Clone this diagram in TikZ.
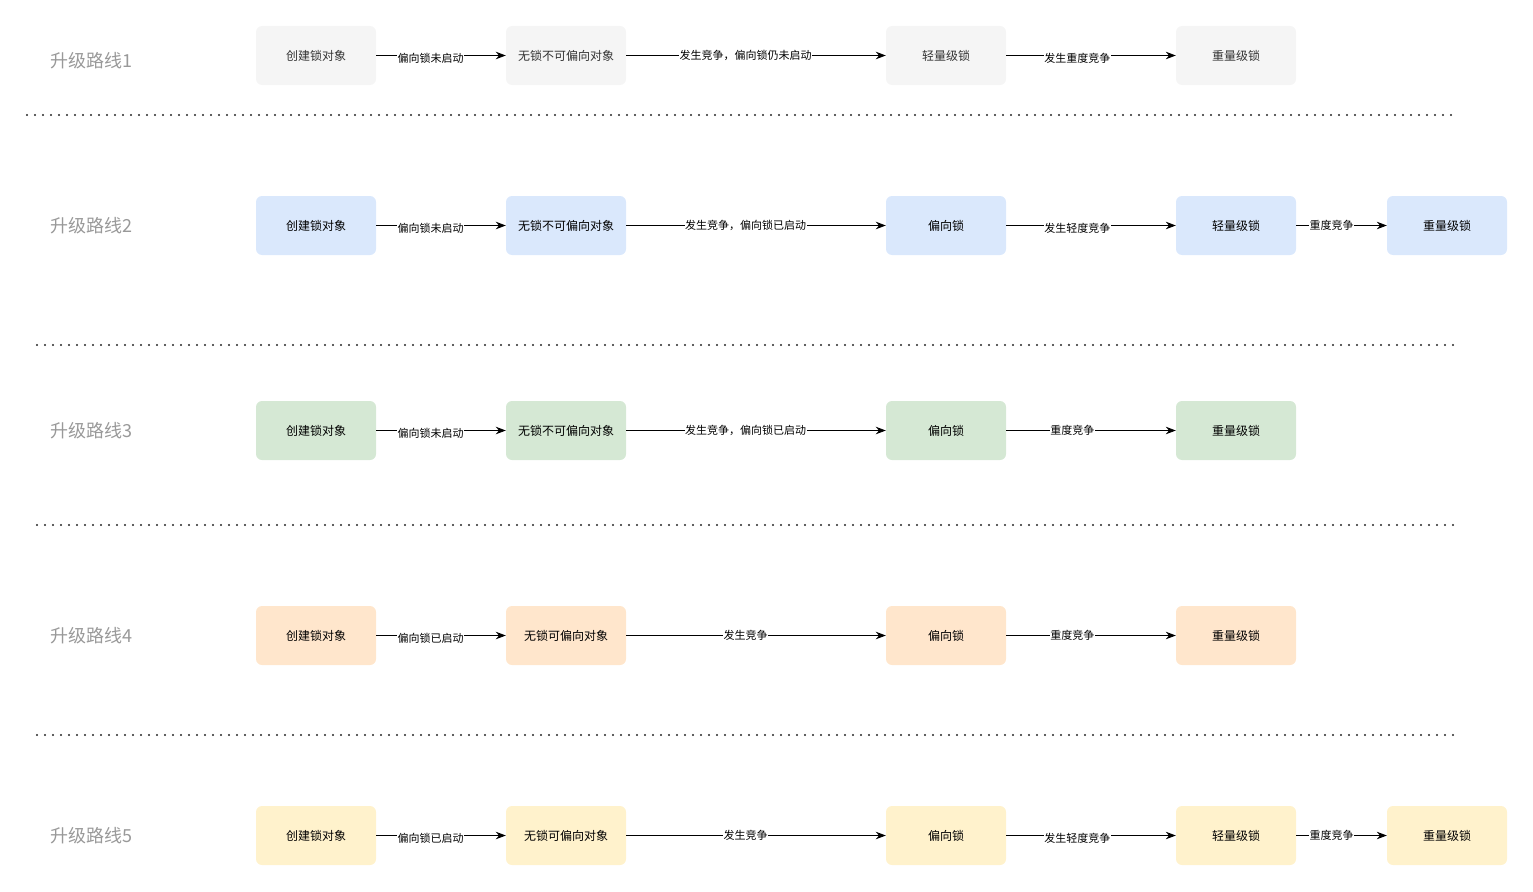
\documentclass[tikz,border=0pt]{standalone}
\usepackage{fontspec}
\setmainfont{Noto Sans CJK SC}
\usetikzlibrary{arrows.meta,positioning}
\definecolor{grayfill}{HTML}{F5F5F5}
\definecolor{bluefill}{HTML}{DAE8FC}
\definecolor{greenfill}{HTML}{D5E8D4}
\definecolor{orangefill}{HTML}{FFE6CC}
\definecolor{yellowfill}{HTML}{FFF2CC}
\definecolor{routegray}{HTML}{999999}

\begin{document}
\begin{tikzpicture}[x=1pt,y=-1pt,
    lockbox/.style={rounded corners=6pt,minimum width=120pt,minimum height=59pt,inner sep=0pt,font=\fontsize{12}{14}\selectfont},
    route/.style={text=routegray,font=\fontsize{18}{20}\selectfont},
    flow/.style={-{Stealth[length=10pt,width=7.5pt]},line width=0.9pt},
    lbl/.style={fill=white,inner sep=0.5pt,font=\fontsize{11}{12}\selectfont,pos=0.42},
    sepline/.style={line width=2.2pt,dash pattern=on 0pt off 8pt,line cap=round,black!85}]
    \useasboundingbox (0,0) rectangle (1533,891);
    % route titles
    \foreach \n/\y in {1/61,2/226,3/431,4/636,5/836}
      \node[route] (route\n) at (91,\y) {升级路线\n};
    % separators
    \draw[sepline] (27,115) -- (1455,115);
    \foreach \y in {345,525,735}
      \draw[sepline] (37,\y) -- (1455,\y);

    % route 1
    \node[lockbox,fill=grayfill,text=black!80] (r1a) at (316,55.5)  {创建锁对象};
    \node[lockbox,fill=grayfill,text=black!80] (r1b) at (566,55.5)  {无锁不可偏向对象};
    \node[lockbox,fill=grayfill,text=black!80] (r1c) at (946,55.5)  {轻量级锁};
    \node[lockbox,fill=grayfill,text=black!80] (r1d) at (1236,55.5) {重量级锁};
    \draw[flow] (r1a) -- node[lbl,yshift=-3pt]{偏向锁未启动} (r1b);
    \draw[flow] (r1b) -- node[lbl,pos=0.46]{发生竞争，偏向锁仍未启动} (r1c);
    \draw[flow] (r1c) -- node[lbl,yshift=-3pt]{发生重度竞争} (r1d);

    % route 2
    \node[lockbox,fill=bluefill] (r2a) at (316,225.5)  {创建锁对象};
    \node[lockbox,fill=bluefill] (r2b) at (566,225.5)  {无锁不可偏向对象};
    \node[lockbox,fill=bluefill] (r2c) at (946,225.5)  {偏向锁};
    \node[lockbox,fill=bluefill] (r2d) at (1236,225.5) {轻量级锁};
    \node[lockbox,fill=bluefill] (r2e) at (1447,225.5) {重量级锁};
    \draw[flow] (r2a) -- node[lbl,yshift=-3pt]{偏向锁未启动} (r2b);
    \draw[flow] (r2b) -- node[lbl,pos=0.46]{发生竞争，偏向锁已启动} (r2c);
    \draw[flow] (r2c) -- node[lbl,yshift=-3pt]{发生轻度竞争} (r2d);
    \draw[flow] (r2d) -- node[lbl,pos=0.39]{重度竞争} (r2e);

    % route 3
    \node[lockbox,fill=greenfill] (r3a) at (316,430.5)  {创建锁对象};
    \node[lockbox,fill=greenfill] (r3b) at (566,430.5)  {无锁不可偏向对象};
    \node[lockbox,fill=greenfill] (r3c) at (946,430.5)  {偏向锁};
    \node[lockbox,fill=greenfill] (r3d) at (1236,430.5) {重量级锁};
    \draw[flow] (r3a) -- node[lbl,yshift=-3pt]{偏向锁未启动} (r3b);
    \draw[flow] (r3b) -- node[lbl,pos=0.46]{发生竞争，偏向锁已启动} (r3c);
    \draw[flow] (r3c) -- node[lbl,pos=0.39]{重度竞争} (r3d);

    % route 4
    \node[lockbox,fill=orangefill] (r4a) at (316,635.5)  {创建锁对象};
    \node[lockbox,fill=orangefill] (r4b) at (566,635.5)  {无锁可偏向对象};
    \node[lockbox,fill=orangefill] (r4c) at (946,635.5)  {偏向锁};
    \node[lockbox,fill=orangefill] (r4d) at (1236,635.5) {重量级锁};
    \draw[flow] (r4a) -- node[lbl,yshift=-3pt]{偏向锁已启动} (r4b);
    \draw[flow] (r4b) -- node[lbl,pos=0.46]{发生竞争} (r4c);
    \draw[flow] (r4c) -- node[lbl,pos=0.39]{重度竞争} (r4d);

    % route 5
    \node[lockbox,fill=yellowfill] (r5a) at (316,835.5)  {创建锁对象};
    \node[lockbox,fill=yellowfill] (r5b) at (566,835.5)  {无锁可偏向对象};
    \node[lockbox,fill=yellowfill] (r5c) at (946,835.5)  {偏向锁};
    \node[lockbox,fill=yellowfill] (r5d) at (1236,835.5) {轻量级锁};
    \node[lockbox,fill=yellowfill] (r5e) at (1447,835.5) {重量级锁};
    \draw[flow] (r5a) -- node[lbl,yshift=-3pt]{偏向锁已启动} (r5b);
    \draw[flow] (r5b) -- node[lbl,pos=0.46]{发生竞争} (r5c);
    \draw[flow] (r5c) -- node[lbl,yshift=-3pt]{发生轻度竞争} (r5d);
    \draw[flow] (r5d) -- node[lbl,pos=0.39]{重度竞争} (r5e);
\end{tikzpicture}
\end{document}
